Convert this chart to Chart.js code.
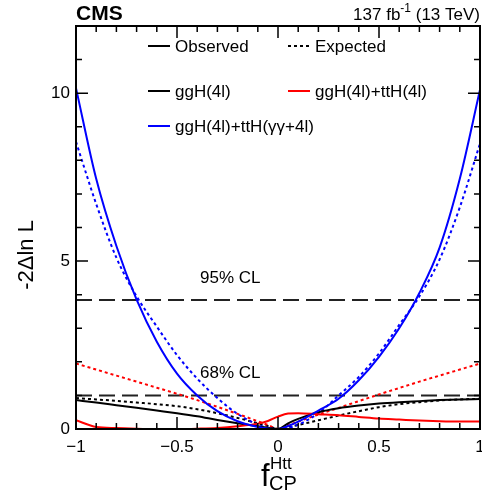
<!DOCTYPE html>
<html>
<head>
<meta charset="utf-8">
<script src="https://cdn.jsdelivr.net/npm/chart.js@4"></script>
<style>
  body{margin:0;background:#fff;}
  #wrap{width:482px;height:498px;}
</style>
</head>
<body>
<div id="wrap"><canvas id="c" width="482" height="498"></canvas></div>
<script>
// f_CP^Htt scan points
const xVals = [-1,-0.9,-0.8,-0.7,-0.6,-0.5,-0.4,-0.3,-0.2,-0.1,-0.05,0,0.05,0.1,0.2,0.3,0.4,0.5,0.6,0.7,0.8,0.9,1];

// -2 Delta ln L
const obsGgh      = [0.86,0.79,0.71,0.63,0.55,0.47,0.38,0.27,0.17,0.08,0.04,0,0.17,0.30,0.50,0.62,0.70,0.76,0.80,0.83,0.86,0.88,0.89];
const expGgh      = [0.92,0.88,0.84,0.79,0.74,0.68,0.59,0.47,0.33,0.17,0.09,0,0.06,0.12,0.26,0.40,0.53,0.65,0.74,0.80,0.85,0.88,0.90];
const obsGghTth   = [0.26,0.06,0.03,0.01,0.00,0.00,0.01,0.03,0.08,0.16,0.24,0.37,0.46,0.47,0.44,0.41,0.36,0.31,0.28,0.25,0.23,0.22,0.22];
const expGghTth   = [1.95,1.77,1.59,1.41,1.23,1.05,0.86,0.66,0.45,0.23,0.12,0,0.11,0.22,0.43,0.63,0.83,1.03,1.22,1.41,1.59,1.77,1.95];
const obsComb     = [10.15,7.45,5.45,3.85,2.60,1.65,1.00,0.53,0.23,0.06,0.015,0,0.09,0.22,0.55,0.90,1.45,2.15,3.00,4.05,5.40,7.45,10.1];
const expComb     = [8.55,6.70,5.10,3.95,3.05,2.20,1.50,0.92,0.45,0.13,0.035,0,0.035,0.13,0.47,1.00,1.55,2.25,3.10,3.95,5.05,6.60,8.50];

const clLevels = [1, 3.84];
const clLabels = ['68% CL', '95% CL'];

const xTicks = [-1,-0.5,0,0.5,1];
const xTickLabels = ['\u22121','\u22120.5','0','0.5','1'];
const yTicks = [0,5,10];
const yTickLabels = ['0','5','10'];

const FONT = '"Liberation Sans", Arial, Helvetica, sans-serif';
const pts = ys => xVals.map((x,i)=>({x, y:ys[i]}));
const curve = (data, color, dotted) => ({
  data: pts(data), borderColor: color, borderWidth: 2, pointRadius: 0,
  borderDash: dotted ? [3,3] : [], cubicInterpolationMode: 'monotone', fill: false
});

const datasets = [
  curve(obsComb, '#0000ff', false),
  curve(obsGghTth, '#ff0000', false),
  curve(obsGgh, '#000000', false),
  curve(expComb, '#0000ff', true),
  curve(expGghTth, '#ff0000', true),
  curve(expGgh, '#000000', true),
  ...clLevels.map(v => ({data:[{x:-1,y:v},{x:1,y:v}], borderColor:'#222', borderWidth:2, borderDash:[16,7], pointRadius:0}))
];

const legendRows = [
  [{label:'Observed', color:'#000', dash:[]}, {label:'Expected', color:'#000', dash:[3,3]}],
  [{label:'ggH(4l)', color:'#000', dash:[]}, {label:'ggH(4l)+ttH(4l)', color:'#ff0000', dash:[]}],
  [{label:'ggH(4l)+ttH(\u03b3\u03b3+4l)', color:'#0000ff', dash:[]}]
];

const decor = {
  id: 'decor',
  afterDraw(chart){
    const {ctx, chartArea:a, scales:{x, y}} = chart;
    ctx.save();
    // frame
    ctx.strokeStyle = '#000'; ctx.lineWidth = 2; ctx.setLineDash([]);
    ctx.strokeRect(a.left, a.top, a.right - a.left, a.bottom - a.top);
    // inside ticks
    ctx.lineWidth = 1.5;
    ctx.beginPath();
    for(let i = -10; i <= 10; i++){
      const px = x.getPixelForValue(i/10), len = i % 5 === 0 ? 12 : 6;
      ctx.moveTo(px, a.bottom); ctx.lineTo(px, a.bottom - len);
      ctx.moveTo(px, a.top); ctx.lineTo(px, a.top + len);
    }
    for(let v = 0; v <= 12; v++){
      const py = y.getPixelForValue(v), len = v % 5 === 0 ? 12 : 6;
      ctx.moveTo(a.left, py); ctx.lineTo(a.left + len, py);
      ctx.moveTo(a.right, py); ctx.lineTo(a.right - len, py);
    }
    ctx.stroke();

    // legend
    ctx.font = '17px ' + FONT; ctx.fillStyle = '#000'; ctx.textBaseline = 'alphabetic';
    const cols = [148, 288], base = [52, 97, 132];
    legendRows.forEach((row, r) => row.forEach((e, c) => {
      const lx = cols[c], ly = base[r] - 6;
      ctx.strokeStyle = e.color; ctx.lineWidth = 2; ctx.setLineDash(e.dash);
      ctx.beginPath(); ctx.moveTo(lx, ly); ctx.lineTo(lx + 22, ly); ctx.stroke();
      ctx.setLineDash([]);
      ctx.fillText(e.label, lx + 27, base[r]);
    }));

    // CL labels
    ctx.font = '17px ' + FONT;
    clLevels.forEach((v, i) => ctx.fillText(clLabels[i], 200, y.getPixelForValue(v) - 17));

    // header
    ctx.font = 'bold 21px ' + FONT;
    ctx.fillText('CMS', a.left, 20);
    const t1 = '137 fb', t2 = '-1', t3 = ' (13 TeV)';
    ctx.font = '12px ' + FONT; const w2 = ctx.measureText(t2).width;
    ctx.font = '17px ' + FONT; const w3 = ctx.measureText(t3).width, w1 = ctx.measureText(t1).width;
    const hx = a.right - w3 - w2 - w1;
    ctx.fillText(t1, hx, 20);
    ctx.font = '12px ' + FONT; ctx.fillText(t2, hx + w1, 12);
    ctx.font = '17px ' + FONT; ctx.fillText(t3, hx + w1 + w2, 20);

    // x title f_CP^Htt
    ctx.font = '31px ' + FONT; ctx.fillText('f', 261, 486);
    ctx.font = '17px ' + FONT; ctx.fillText('Htt', 270, 469);
    ctx.font = '20px ' + FONT; ctx.fillText('CP', 269, 490);

    // y title
    ctx.save();
    ctx.translate(33, 255); ctx.rotate(-Math.PI/2);
    ctx.font = '22px ' + FONT; ctx.textAlign = 'center';
    ctx.fillText('-2\u0394ln L', 0, 0);
    ctx.restore();
    ctx.restore();
  }
};

new Chart(document.getElementById('c'), {
  type: 'line',
  data: { datasets },
  options: {
    responsive: false, animation: false,
    layout: { padding: { top: 26, right: 2, left: 0, bottom: 0 } },
    plugins: { legend: { display: false }, tooltip: { enabled: false } },
    scales: {
      x: {
        type: 'linear', min: -1, max: 1,
        grid: { display: false, drawTicks: false }, border: { display: false },
        afterBuildTicks: s => { s.ticks = xTicks.map(v => ({value: v})); },
        afterFit: s => { s.height = 69; s.paddingLeft = 0; s.paddingRight = 0; },
        ticks: { padding: 8, color: '#000', font: { size: 17, family: FONT }, maxRotation: 0,
                 callback: v => xTickLabels[xTicks.indexOf(v)] }
      },
      y: {
        type: 'linear', min: 0, max: 12,
        grid: { display: false, drawTicks: false }, border: { display: false },
        afterBuildTicks: s => { s.ticks = yTicks.map(v => ({value: v})); },
        afterFit: s => { s.width = 76; s.paddingTop = 0; s.paddingBottom = 0; },
        ticks: { padding: 6, color: '#000', font: { size: 17, family: FONT },
                 callback: v => yTickLabels[yTicks.indexOf(v)] }
      }
    }
  },
  plugins: [decor]
});
</script>
</body>
</html>
